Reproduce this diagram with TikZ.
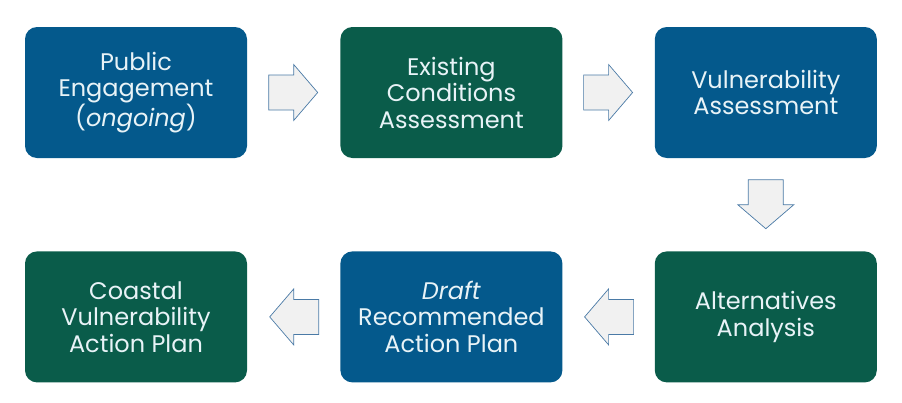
\documentclass[tikz,border=0pt]{standalone}
\usepackage{fontspec}
\setmainfont{Poppins}
\usetikzlibrary{positioning,calc}

\definecolor{stepblue}{HTML}{04598C}
\definecolor{stepgreen}{HTML}{0A5C4A}
\definecolor{steptext}{HTML}{E8F3F7}
\definecolor{arrowfill}{HTML}{F1F1F1}
\definecolor{arrowline}{HTML}{4A7AA6}

\tikzset{
  stepbox/.style={rectangle, rounded corners=12pt, minimum width=222pt,
    minimum height=131pt, align=center, text=steptext,
    font=\fontsize{24}{26.5}\selectfont},
  bluebox/.style={stepbox, fill=stepblue},
  greenbox/.style={stepbox, fill=stepgreen},
  blockarrow/.pic={
    \draw[fill=arrowfill, draw=arrowline, line width=0.7pt, line join=miter]
      (-25,17.5) -- (0,17.5) -- (0,28) -- (24,0) -- (0,-28) -- (0,-17.5)
      -- (-25,-17.5) -- cycle;
  }
}

\begin{document}
\begin{tikzpicture}[x=1pt, y=1pt, node distance=93pt]

\useasboundingbox (0,0) rectangle (902,-402);

% top row
\node[bluebox] (pe) at (136,-92.5) {Public\\Engagement\\(\textit{ongoing})};
\node[greenbox, right=93pt of pe] (eca) {Existing\\Conditions\\Assessment};
\node[bluebox, right=92pt of eca] (va) {Vulnerability\\Assessment};

% bottom row
\node[greenbox, below=93pt of va] (aa) {Alternatives\\Analysis};
\node[bluebox, left=92pt of aa] (drap) {\textit{Draft}\\Recommended\\Action Plan};
\node[greenbox, left=93pt of drap] (cvap) {Coastal\\Vulnerability\\Action Plan};

% block arrows between steps
\pic at ($(pe.east)!0.5!(eca.west)$) {blockarrow};
\pic at ($(eca.east)!0.5!(va.west)$) {blockarrow};
\pic[rotate=-90] at ($(va.south)!0.5!(aa.north)$) {blockarrow};
\pic[rotate=180] at ($(aa.west)!0.5!(drap.east)$) {blockarrow};
\pic[rotate=180] at ($(drap.west)!0.5!(cvap.east)$) {blockarrow};

\end{tikzpicture}
\end{document}
